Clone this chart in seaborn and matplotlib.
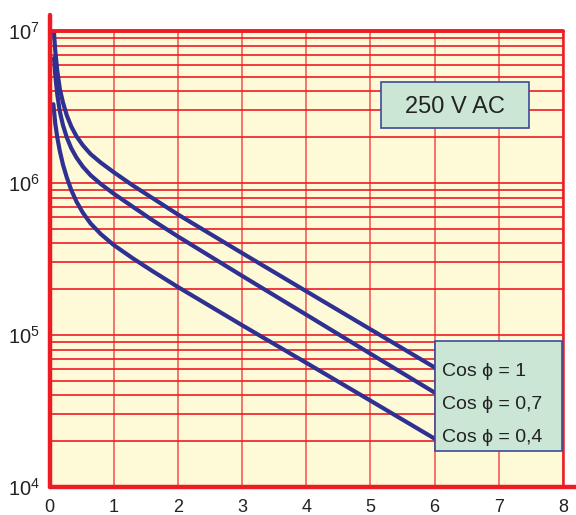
import numpy as np
import pandas as pd
import matplotlib
matplotlib.use('Agg')
import matplotlib.pyplot as plt
import seaborn as sns
from matplotlib.ticker import LogLocator
from matplotlib.patches import Rectangle
from matplotlib.lines import Line2D

# curve data (x = current, y = cycles)
x_cos1 = [0.07, 0.09, 0.12, 0.16, 0.21, 0.27, 0.34, 0.42, 0.52, 0.64, 0.8,
          1.0, 1.3, 1.6, 2, 3, 4, 5, 6]
y_cos1 = [9.66e6, 7.40e6, 5.52e6, 4.18e6, 3.38e6, 2.78e6, 2.35e6, 2.03e6,
          1.77e6, 1.55e6, 1.36e6, 1.178e6, 9.62e5, 7.98e5, 6.21e5, 3.46e5,
          1.94e5, 1.09e5, 6.12e4]

x_cos07 = [0.07, 0.09, 0.12, 0.16, 0.21, 0.27, 0.34, 0.42, 0.52, 0.64, 0.8,
           1.0, 1.3, 1.6, 2, 3, 4, 5, 6]
y_cos07 = [6.64e6, 5.13e6, 3.86e6, 2.96e6, 2.40e6, 1.99e6, 1.69e6, 1.47e6,
           1.28e6, 1.125e6, 9.84e5, 8.51e5, 6.97e5, 5.71e5, 4.45e5, 2.45e5,
           1.36e5, 7.53e4, 4.18e4]

x_cos04 = [0.06, 0.09, 0.12, 0.16, 0.21, 0.27, 0.34, 0.42, 0.52, 0.64, 0.8,
           1.0, 1.3, 1.6, 2, 3, 4, 5, 6]
y_cos04 = [3.30e6, 2.46e6, 2.01e6, 1.63e6, 1.32e6, 1.086e6, 8.97e5, 7.55e5,
           6.37e5, 5.42e5, 4.61e5, 3.91e5, 3.19e5, 2.64e5, 2.07e5, 1.16e5,
           6.56e4, 3.70e4, 2.08e4]

curve_labels = ['Cos \u03d5 = 1', 'Cos \u03d5 = 0,7', 'Cos \u03d5 = 0,4']
x_ticks = [0, 1, 2, 3, 4, 5, 6, 7, 8]
y_ticks = [1e4, 1e5, 1e6, 1e7]
y_ticklabels = [r'$10^{4}$', r'$10^{5}$', r'$10^{6}$', r'$10^{7}$']
title_box = '250 V AC'

df = pd.concat([
    pd.DataFrame({'x': x_cos1, 'y': y_cos1, 'curve': curve_labels[0]}),
    pd.DataFrame({'x': x_cos07, 'y': y_cos07, 'curve': curve_labels[1]}),
    pd.DataFrame({'x': x_cos04, 'y': y_cos04, 'curve': curve_labels[2]}),
])

sns.set_style('white')
plt.rcParams['font.family'] = ['Liberation Sans', 'DejaVu Sans']
plt.rcParams['mathtext.fontset'] = 'custom'
plt.rcParams['mathtext.rm'] = 'Liberation Sans'
plt.rcParams['mathtext.it'] = 'Liberation Sans:italic'

red = '#ed1c24'
blue = '#2e3192'
box_face = '#cbe6d5'
box_edge = '#3a4a9a'

fig = plt.figure(figsize=(5.76, 5.15), dpi=100)
ax = fig.add_axes([49.5 / 576, 1 - 487 / 515, 513.5 / 576, 456 / 515])
ax.set_facecolor('#fef9d6')

sns.lineplot(data=df, x='x', y='y', hue='curve', palette=[blue] * 3,
             linewidth=3.0, legend=False, ax=ax, sort=False, estimator=None,
             solid_joinstyle='round', zorder=3)

ax.set_yscale('log')
ax.set_xlim(0, 8)
ax.set_ylim(1e4, 1e7)
ax.set_xlabel('')
ax.set_ylabel('')

ax.set_xticks(x_ticks)
ax.set_yticks(y_ticks)
ax.set_yticklabels(y_ticklabels)
ax.yaxis.set_minor_locator(LogLocator(base=10, subs=np.arange(2, 10)))
ax.yaxis.set_minor_formatter(plt.NullFormatter())

ax.set_axisbelow(True)
ax.grid(which='both', axis='y', color=red, linewidth=1.4, alpha=0.85)
ax.grid(which='major', axis='x', color=red, linewidth=1.2, alpha=0.7)

ax.tick_params(axis='y', which='minor', length=0)
ax.tick_params(axis='y', which='major', length=11, width=1.2, color='#f07070',
               labelsize=14.5, pad=-4, labelcolor='#222222')
ax.tick_params(axis='x', length=7, width=1.2, color=red, labelsize=13,
               pad=2, labelcolor='#222222')

for s in ax.spines.values():
    s.set_visible(False)

# frame lines (left and bottom run past the plot area)
ax.add_line(Line2D([0, 0], [0, 1.035], transform=ax.transAxes, color=red,
                   lw=3.2, clip_on=False, zorder=4))
ax.add_line(Line2D([0, 1.025], [0, 0], transform=ax.transAxes, color=red,
                   lw=3.2, clip_on=False, zorder=4))
ax.add_line(Line2D([0, 1], [1, 1], transform=ax.transAxes, color=red,
                   lw=2.8, clip_on=False, zorder=4))
ax.add_line(Line2D([1, 1], [0, 1], transform=ax.transAxes, color=red,
                   lw=1.8, clip_on=False, zorder=4))

# "250 V AC" box
ax.add_patch(Rectangle((0.6456, 0.787), 0.288, 0.1015, transform=ax.transAxes,
                       facecolor=box_face, edgecolor=box_edge, lw=1.2, zorder=5))
ax.text(0.7897, 0.834, title_box, transform=ax.transAxes, fontsize=17,
        ha='center', va='center', color='#222222', zorder=6)

# curve label box
ax.add_patch(Rectangle((0.7507, 0.0796), 0.2467, 0.2406, transform=ax.transAxes,
                       facecolor=box_face, edgecolor=box_edge, lw=1.2, zorder=5))
for lab, ty in zip(curve_labels, [0.2522, 0.1805, 0.1075]):
    ax.text(0.7638, ty, lab, transform=ax.transAxes, fontsize=14,
            ha='left', va='center', color='#222222', zorder=6)

fig.savefig('out.png', dpi=100)
